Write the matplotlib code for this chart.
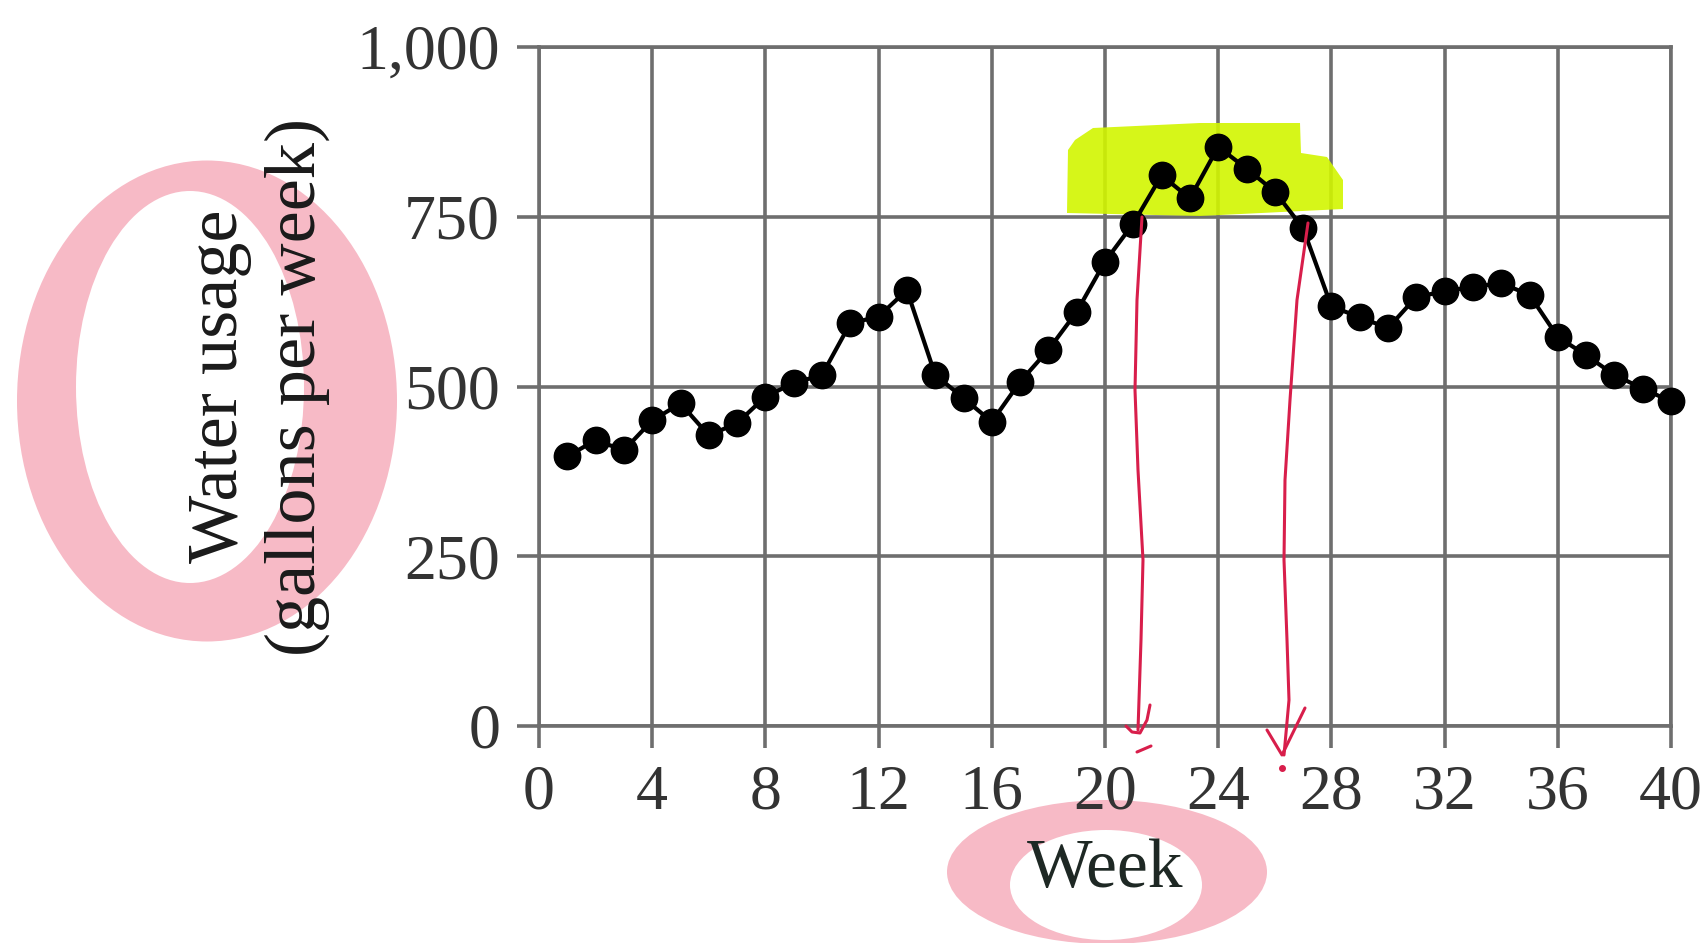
import matplotlib
matplotlib.use("Agg")
import matplotlib.pyplot as plt
from matplotlib.lines import Line2D
from matplotlib.patches import Ellipse, Polygon

# ---------------------------------------------------------
# Dados: uso semanal de água (galões por semana)
# ---------------------------------------------------------
weeks = list(range(1, 41))
usage = [397, 421, 406, 450, 475, 428, 446, 485, 505, 517,
         593, 603, 642, 517, 483, 448, 507, 554, 610, 684,
         740, 811, 777, 853, 821, 787, 733, 618, 602, 586,
         632, 640, 647, 652, 635, 573, 546, 517, 497, 478]

x_ticks = [0, 4, 8, 12, 16, 20, 24, 28, 32, 36, 40]
y_ticks = [0, 250, 500, 750, 1000]
y_tick_labels = ["0", "250", "500", "750", "1,000"]

x_label = "Week"
y_label = "Water usage\n(gallons per week)"

W, H = 1701, 943


def px(x, y):
    """Pixel da imagem -> fração da figura."""
    return x / W, 1 - y / H


def pts(lista):
    xs = [px(x, y)[0] for x, y in lista]
    ys = [px(x, y)[1] for x, y in lista]
    return xs, ys


# marcações feitas à mão (destaque, setas, círculos)
destaque = [(1067, 213), (1068, 150), (1075, 140), (1093, 128), (1200, 123),
            (1300, 123), (1301, 153), (1327, 157), (1343, 180), (1343, 209),
            (1200, 216)]
seta_esq = [(1142, 217), (1137, 300), (1135, 390), (1138, 470), (1143, 560),
            (1141, 640), (1139, 700), (1138, 730)]
ponta_esq = [(1126, 726), (1132, 732), (1140, 733), (1147, 720), (1150, 705)]
traco_esq = [(1137, 752), (1151, 746)]
seta_dir = [(1308, 223), (1297, 300), (1290, 400), (1285, 480), (1284, 560),
            (1287, 640), (1289, 700), (1284, 755)]
ponta_dir = [(1267, 730), (1282, 755), (1305, 708)]

plt.rcParams["font.family"] = ["Liberation Serif", "DejaVu Serif"]

cor_grade = "#6e6e6e"
cor_texto = "#333333"
rosa = "#f7bac6"
amarelo = "#d2f500"
vermelho = "#d81e4b"

fig = plt.figure(figsize=(W / 100, H / 100), dpi=100)
ax = fig.add_axes([539 / W, 1 - 726 / H, (1671 - 539) / W, (726 - 47) / H])

ax.plot(weeks, usage, color="black", linewidth=3, marker="o",
        markersize=19, zorder=3, clip_on=False)

ax.set_xlim(0, 40)
ax.set_ylim(0, 1000)
ax.set_xticks(x_ticks)
ax.set_yticks(y_ticks)
ax.set_yticklabels(y_tick_labels)

ax.grid(True, color=cor_grade, linewidth=2.6)
ax.set_axisbelow(True)
for spine in ax.spines.values():
    spine.set_color(cor_grade)
    spine.set_linewidth(2.6)

ax.tick_params(direction="out", length=16, width=2.6, color=cor_grade,
               labelsize=46, labelcolor=cor_texto, pad=12)

ax.set_xlabel(x_label, fontsize=50, color="#1e2824")
ax.xaxis.set_label_coords(0.5, (726 - 839) / 679)
ax.set_ylabel(y_label, fontsize=52, color="#1a1a1a", linespacing=1.25)
ax.yaxis.set_label_coords((330 - 539) / 1132, 0.5)

# destaque amarelo sobre o pico
xs, ys = pts(destaque)
ax.add_patch(Polygon(list(zip(xs, ys)), closed=True, transform=fig.transFigure,
                     facecolor=amarelo, edgecolor="none", alpha=0.9,
                     zorder=2.5, clip_on=False))

# círculos rosa em volta dos rótulos
fig.add_artist(Ellipse(px(207, 401), 380 / W, 481 / H, transform=fig.transFigure,
                       facecolor=rosa, edgecolor="none", zorder=-2))
fig.add_artist(Ellipse(px(190, 387), 228 / W, 392 / H, transform=fig.transFigure,
                       facecolor="white", edgecolor="none", zorder=-1))
fig.add_artist(Ellipse(px(1107, 872), 320 / W, 144 / H, transform=fig.transFigure,
                       facecolor=rosa, edgecolor="none", zorder=-2))
fig.add_artist(Ellipse(px(1106, 885), 192 / W, 110 / H, transform=fig.transFigure,
                       facecolor="white", edgecolor="none", zorder=-1))

# setas vermelhas
for linha in [seta_esq, ponta_esq, traco_esq, seta_dir, ponta_dir]:
    xs, ys = pts(linha)
    fig.add_artist(Line2D(xs, ys, transform=fig.transFigure, color=vermelho,
                          linewidth=2.2, solid_capstyle="round", zorder=5))
xd, yd = px(1282, 768)
fig.add_artist(Line2D([xd], [yd], transform=fig.transFigure, color=vermelho,
                      marker="o", markersize=4, linestyle="none", zorder=5))

fig.savefig("out.png", dpi=100)
